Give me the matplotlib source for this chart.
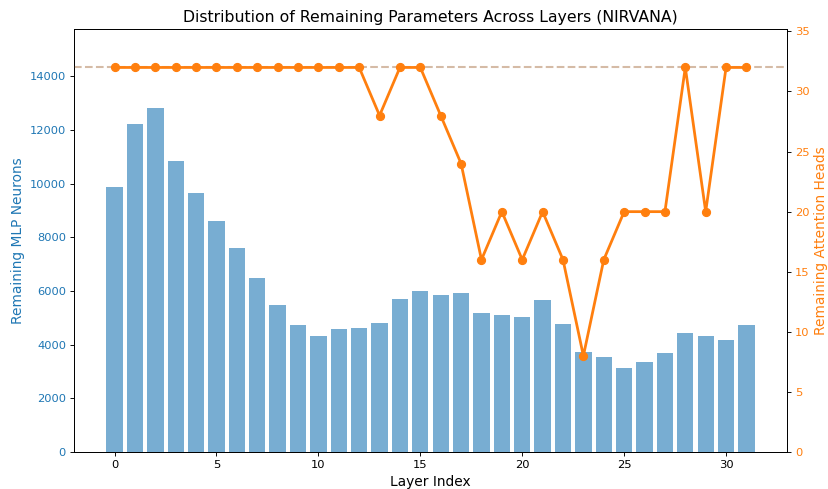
import matplotlib
matplotlib.use("Agg")
import matplotlib.pyplot as plt
import numpy as np

layers = list(range(32))
mlp_neurons = [9863, 12224, 12820, 10830, 9650, 8630, 7610, 6500, 5480, 4745,
               4310, 4570, 4630, 4810, 5710, 5990, 5860, 5930, 5180, 5090,
               5040, 5660, 4780, 3710, 3530, 3140, 3350, 3700, 4430, 4340,
               4160, 4750]
attn_heads = [32, 32, 32, 32, 32, 32, 32, 32, 32, 32, 32, 32, 32, 28, 32, 32,
              28, 24, 16, 20, 16, 20, 16, 8, 16, 20, 20, 20, 32, 20, 32, 32]
max_heads = 32
max_neurons = 14336

fig, ax1 = plt.subplots(figsize=(10, 489 / 82.8), dpi=82.8)
ax1.bar(layers, mlp_neurons, color='tab:blue', alpha=0.6)
ax1.set_xlabel('Layer Index', fontsize=12)
ax1.set_ylabel('Remaining MLP Neurons', color='tab:blue', fontsize=12)
ax1.tick_params(axis='y', labelcolor='tab:blue')
ax1.set_ylim(0, max_neurons * 1.1)

ax2 = ax1.twinx()
ax2.axhline(max_heads, color='#d5bba6', linestyle='--', linewidth=1.8)
ax2.plot(layers, attn_heads, color='tab:orange', marker='o', linewidth=2.4,
         markersize=7)
ax2.set_ylabel('Remaining Attention Heads', color='tab:orange', fontsize=12)
ax2.tick_params(axis='y', labelcolor='tab:orange')
ax2.set_ylim(0, max_heads * 1.1)

ax1.set_title('Distribution of Remaining Parameters Across Layers (NIRVANA)', fontsize=13.7)
fig.subplots_adjust(left=0.0894, right=0.9505, top=0.9407, bottom=0.0757)
fig.savefig('out.png', dpi=82.8)
